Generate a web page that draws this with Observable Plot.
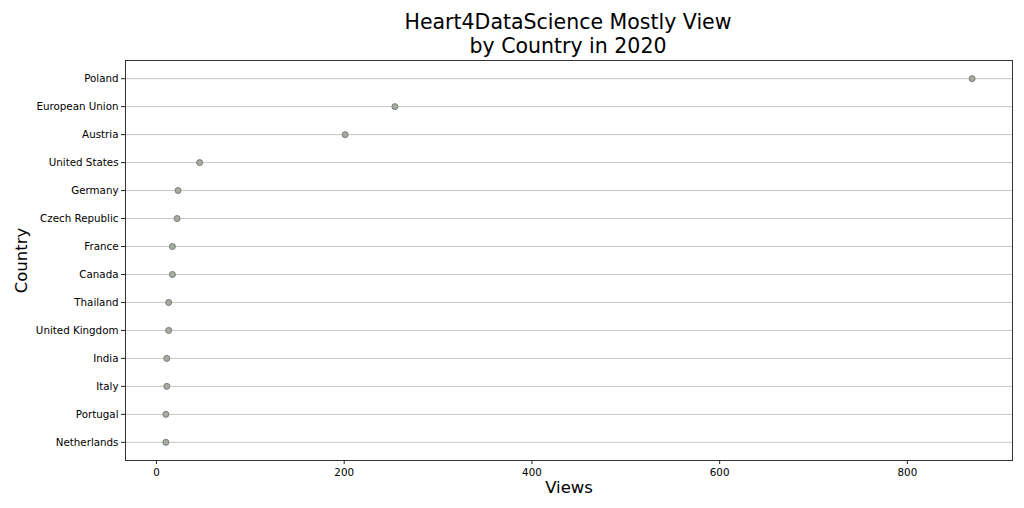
<!DOCTYPE html>
<html>
<head>
<meta charset="utf-8">
<script src="https://cdn.jsdelivr.net/npm/d3@7"></script>
<script src="https://cdn.jsdelivr.net/npm/@observablehq/plot@0.6"></script>
<style>
  html, body { margin: 0; padding: 0; background: #fff; }
  body { width: 1024px; height: 508px; overflow: hidden; font-family: "DejaVu Sans", sans-serif; }
  #title { position: relative; height: 58px; }
  #title div { position: absolute; left: 568px; transform: translateX(-50%); white-space: nowrap; font-size: 20.5px; color: #000; line-height: 24px; }
  #chart svg { display: block; }
</style>
</head>
<body>
<div id="title"><div style="top:10px">Heart4DataScience Mostly View</div><div style="top:34px">by Country in 2020</div></div>
<div id="chart"></div>
<script>
const countries = ["Poland", "European Union", "Austria", "United States", "Germany", "Czech Republic", "France", "Canada", "Thailand", "United Kingdom", "India", "Italy", "Portugal", "Netherlands"];
const views = [869, 254, 201, 46, 23, 22, 17, 17, 13, 13, 11, 11, 10, 10];
const xTicks = [0, 200, 400, 600, 800];

const data = countries.map((c, i) => ({country: c, views: views[i]}));

const chart = Plot.plot({
  width: 1024,
  height: 450,
  marginTop: 2,
  marginBottom: 48,
  marginLeft: 125,
  marginRight: 12,
  style: {fontFamily: "DejaVu Sans, sans-serif", fontSize: "10.3px", color: "#000", background: "#fff"},
  x: {domain: [-33, 912], ticks: xTicks, label: null},
  y: {type: "point", domain: countries, padding: 0.65, round: false, label: null},
  marks: [
    Plot.ruleY(countries, {y: d => d, stroke: "#c6c6c6", strokeWidth: 1, strokeOpacity: 1}),
    Plot.axisY({tickSize: 4, tickPadding: 3, fontSize: 10.3, stroke: "#222", label: null}),
    Plot.axisX({ticks: xTicks, tickSize: 4, tickPadding: 4, fontSize: 10.3, stroke: "#222", label: null}),
    Plot.dot(data, {x: "views", y: "country", r: 3, fill: "#a4ada0", stroke: "#7a7a7a", strokeWidth: 1}),
    Plot.frame({stroke: "#333", strokeWidth: 1}),
    Plot.text(["Views"], {frameAnchor: "bottom", textAnchor: "middle", lineAnchor: "middle", dy: 27, fontSize: 16.5, fill: "#000"}),
    Plot.text(["Country"], {frameAnchor: "left", textAnchor: "middle", lineAnchor: "middle", dx: -103.5, rotate: -90, fontSize: 16.5, fill: "#000"})
  ]
});
document.getElementById("chart").appendChild(chart);
</script>
</body>
</html>
